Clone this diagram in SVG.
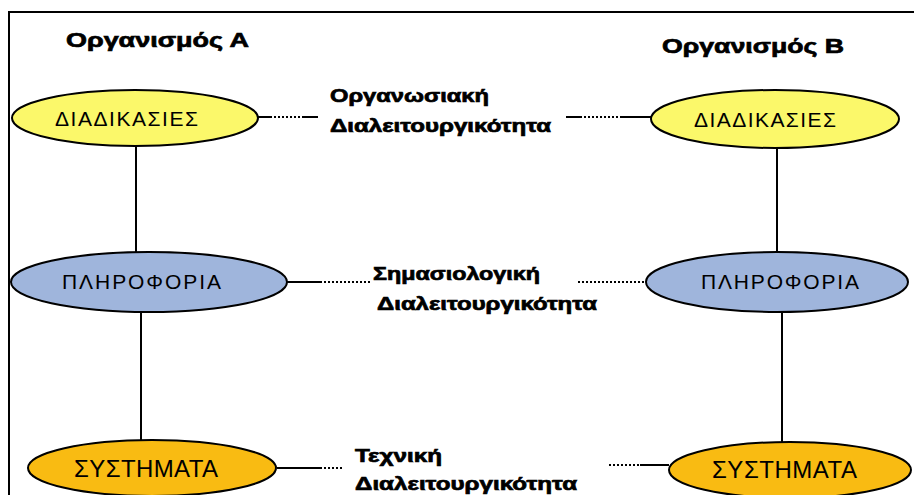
<svg xmlns="http://www.w3.org/2000/svg" width="914" height="495" viewBox="0 0 914 495">
<style>
.frame{stroke:#000;stroke-width:2;fill:none}
.node{stroke:#000;stroke-width:2}
.yel{fill:#fbf86a}
.blu{fill:#9fb5dc}
.org{fill:#f9bb12}
.lab{font-family:"Liberation Sans",Arial,sans-serif;font-weight:normal;fill:#000}
.bold{font-family:"Liberation Sans",Arial,sans-serif;font-weight:bold;fill:#000;stroke:#000;stroke-width:0.7}
.solid{stroke:#000;stroke-width:2;fill:none}
.dot{stroke:#000;stroke-width:2;fill:none;stroke-dasharray:2 2}
</style>
<rect x="0" y="0" width="914" height="495" fill="#fff"/>
<path class="frame" d="M9,495 V12 H914"/>
<text class="bold" x="66" y="47" font-size="21" textLength="183" lengthAdjust="spacingAndGlyphs">Οργανισμός Α</text>
<text class="bold" x="662" y="53" font-size="21" textLength="182" lengthAdjust="spacingAndGlyphs">Οργανισμός Β</text>
<g id="connectors">
<line class="solid" x1="136" y1="147" x2="136" y2="252"/>
<line class="solid" x1="141" y1="312" x2="141" y2="440"/>
<line class="solid" x1="777" y1="148" x2="777" y2="253"/>
<line class="solid" x1="782" y1="312" x2="782" y2="442"/>
<line class="solid" x1="258" y1="117" x2="270" y2="117"/>
<line class="dot" x1="270" y1="117" x2="304" y2="117"/>
<line class="solid" x1="304" y1="117" x2="318" y2="117"/>
<line class="solid" x1="566" y1="117" x2="580" y2="117"/>
<line class="dot" x1="580" y1="117" x2="620" y2="117"/>
<line class="solid" x1="620" y1="117" x2="651" y2="117"/>
<line class="solid" x1="287" y1="282" x2="320" y2="282"/>
<line class="dot" x1="320" y1="282" x2="372" y2="282"/>
<line class="dot" x1="578" y1="282" x2="646" y2="282"/>
<line class="solid" x1="277" y1="468" x2="320" y2="468"/>
<line class="dot" x1="320" y1="468" x2="343" y2="468"/>
<line class="dot" x1="609" y1="465" x2="640" y2="465"/>
<line class="solid" x1="640" y1="465" x2="669" y2="465"/>
</g>
<g id="label-organwsiaki">
<text class="bold" x="330" y="102" font-size="19" textLength="159" lengthAdjust="spacingAndGlyphs">Οργανωσιακή</text>
<text class="bold" x="330" y="132" font-size="19" textLength="221" lengthAdjust="spacingAndGlyphs">Διαλειτουργικότητα</text>
</g>
<g id="label-simasiologiki">
<text class="bold" x="373" y="280" font-size="19" textLength="167" lengthAdjust="spacingAndGlyphs">Σημασιολογική</text>
<text class="bold" x="377" y="310" font-size="19" textLength="220" lengthAdjust="spacingAndGlyphs">Διαλειτουργικότητα</text>
</g>
<g id="label-texniki">
<text class="bold" x="355" y="462" font-size="19" textLength="87" lengthAdjust="spacingAndGlyphs">Τεχνική</text>
<text class="bold" x="355" y="490" font-size="19" textLength="222" lengthAdjust="spacingAndGlyphs">Διαλειτουργικότητα</text>
</g>
<g id="A-diadikasies">
<ellipse class="node yel" cx="135" cy="118" rx="123" ry="28"/>
<text class="lab" x="55" y="126" font-size="21" textLength="143" lengthAdjust="spacing">ΔΙΑΔΙΚΑΣΙΕΣ</text>
</g>
<g id="B-diadikasies">
<ellipse class="node yel" cx="775" cy="119" rx="124" ry="29"/>
<text class="lab" x="694" y="127" font-size="21" textLength="142" lengthAdjust="spacing">ΔΙΑΔΙΚΑΣΙΕΣ</text>
</g>
<g id="A-plirofories">
<ellipse class="node blu" cx="149" cy="282" rx="138" ry="30"/>
<text class="lab" x="62" y="289" font-size="21" textLength="159" lengthAdjust="spacing">ΠΛΗΡΟΦΟΡΙΑ</text>
</g>
<g id="B-plirofories">
<ellipse class="node blu" cx="777" cy="282" rx="131" ry="30"/>
<text class="lab" x="701" y="289" font-size="21" textLength="158" lengthAdjust="spacing">ΠΛΗΡΟΦΟΡΙΑ</text>
</g>
<g id="A-systimata">
<ellipse class="node org" cx="152" cy="468" rx="124" ry="28"/>
<text class="lab" x="74" y="477" font-size="24" textLength="144" lengthAdjust="spacing">ΣΥΣΤΗΜΑΤΑ</text>
</g>
<g id="B-systimata">
<ellipse class="node org" cx="790" cy="470" rx="121" ry="28"/>
<text class="lab" x="712" y="478" font-size="24" textLength="145" lengthAdjust="spacing">ΣΥΣΤΗΜΑΤΑ</text>
</g>
</svg>
